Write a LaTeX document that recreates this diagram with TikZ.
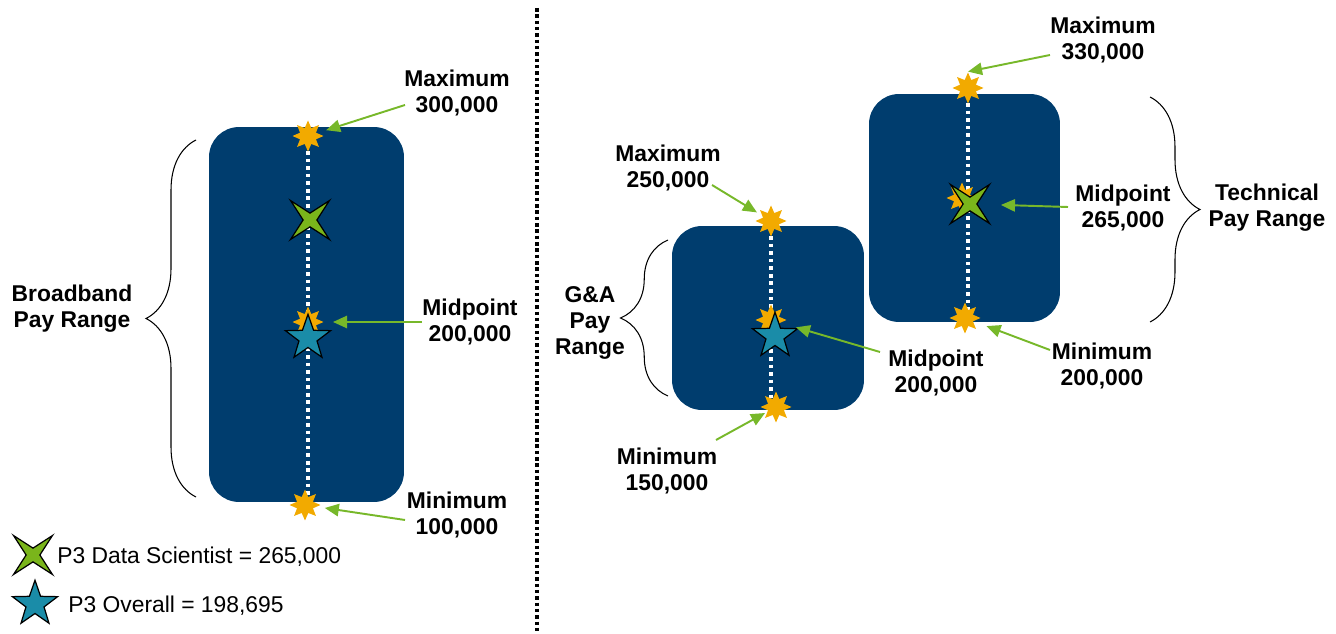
\documentclass[tikz,border=0pt]{standalone}
\usepackage{fontspec}
\setmainfont{Liberation Sans}
\usetikzlibrary{shapes.geometric,arrows.meta,decorations.pathreplacing}
\definecolor{navy}{HTML}{003D6E}
\definecolor{burstc}{HTML}{F2AA00}
\definecolor{lime}{HTML}{77B82A}
\definecolor{xgreen}{HTML}{7AB51B}
\definecolor{tealc}{HTML}{1A8CA8}
\begin{document}
\begin{tikzpicture}[x=0.02cm,y=-0.02cm,
  panel/.style={fill=navy, rounded corners=0.6cm, inner sep=0},
  burst/.style={star, star points=8, star point ratio=1.8, fill=burstc, minimum size=0.62cm, inner sep=0},
  xmark/.style={star, star points=4, star point ratio=4, fill=xgreen, draw=black, line width=0.7pt, shape border rotate=45, minimum size=1.1cm, inner sep=0},
  tstar/.style={star, star points=5, star point ratio=2.5, fill=tealc, draw=black, line width=0.7pt, minimum size=0.95cm, inner sep=0},
  lbl/.style={font=\fontsize{13}{14.7}\selectfont\bfseries, align=center, inner sep=0},
  legtext/.style={font=\fontsize{13}{15}\selectfont, anchor=west, inner sep=0},
  pointer/.style={lime, line width=1.1pt, -{Triangle[length=8pt,width=7pt]}},
  guide/.style={white, line width=2.1pt, dash pattern=on 2.1pt off 2.2pt},
  sep/.style={black, line width=2pt, dash pattern=on 2pt off 1.6pt},
  bracket/.style={decorate, decoration={brace, amplitude=1cm}, line width=0.6pt}
]
\useasboundingbox (0,0) rectangle (1336,634);

% separator
\coordinate (septop) at (537,8);
\coordinate (sepbot) at (537,634);
\draw[sep] (septop) -- (sepbot);

% ---------- left: broadband ----------
\node[panel, minimum width=3.9cm, minimum height=7.5cm] (bb) at (306.5,314.5) {};
\coordinate (lb1) at (308,136);
\coordinate (lb2) at (308,322);
\coordinate (lb3) at (305,505);
\draw[guide] (lb1) -- (308,500);
\node[burst] (b1) at (lb1) {};
\node[burst] (b2) at (lb2) {};
\node[burst] (b3) at (lb3) {};
\node[xmark] (x1) at (310,220) {};
\node[tstar] (t1) at (308,338) {};

\node[lbl] (lmax) at (457,93) {Maximum\\300,000};
\node[lbl] (lmid) at (470,322) {Midpoint\\200,000};
\node[lbl] (lmin) at (457,515) {Minimum\\100,000};
\coordinate (la1) at (405,105);
\coordinate (la2) at (422,322);
\coordinate (la3) at (405,520);
\draw[pointer, shorten >=0.38cm] (la1) -- (b1.center);
\draw[pointer, shorten >=0.5cm] (la2) -- (b2.center);
\draw[pointer, shorten >=0.4cm] (la3) -- (b3.center);

\coordinate (lbrb) at (196,497);
\coordinate (lbrt) at (196,140);
\draw[bracket] (lbrb) -- (lbrt);
\node[lbl] (lrange) at (72,309) {Broadband\\Pay Range};

% legend
\node[xmark] (legx) at (33,555) {};
\node[legtext] (legxt) at (57,557) {P3 Data Scientist = 265,000};
\node[tstar] (legt) at (35,604) {};
\node[legtext] (legtt) at (68,606) {P3 Overall = 198,695};

% ---------- right: G&A ----------
\node[panel, minimum width=3.84cm, minimum height=3.68cm] (ga) at (768,318) {};
\coordinate (gb1) at (771,221);
\coordinate (gb2) at (771,320);
\coordinate (gb3) at (776,407);
\draw[guide] (gb1) -- (771,405);
\node[burst] (g1) at (gb1) {};
\node[burst] (g2) at (gb2) {};
\node[burst] (g3) at (gb3) {};
\node[tstar] (gt) at (775,336) {};

\node[lbl] (gmax) at (668,168) {Maximum\\250,000};
\node[lbl] (gmid) at (936,373) {Midpoint\\200,000};
\node[lbl] (gmin) at (667,471) {Minimum\\150,000};
\coordinate (ga1) at (712,185);
\coordinate (ga2) at (880,352);
\coordinate (ga3) at (716,440);
\draw[pointer, shorten >=0.33cm] (ga1) -- (g1.center);
\draw[pointer, shorten >=0.52cm] (ga2) -- (g2.center);
\draw[pointer, shorten >=0.25cm] (ga3) -- (g3.center);

\coordinate (gbrb) at (668,396);
\coordinate (gbrt) at (668,240);
\draw[bracket, decoration={amplitude=0.95cm}] (gbrb) -- (gbrt);
\node[lbl] (grange) at (590,323) {G\&A\\Pay\\Range};

% ---------- right: technical ----------
\node[panel, minimum width=3.82cm, minimum height=4.56cm] (te) at (964.5,208) {};
\coordinate (tb1p) at (968,88);
\coordinate (tb2p) at (962,198);
\coordinate (tb3p) at (965,318);
\draw[guide] (tb1p) -- (968,316);
\node[burst] (tb1) at (tb1p) {};
\node[burst] (tb2) at (tb2p) {};
\node[burst] (tb3) at (tb3p) {};
\node[xmark] (tx) at (970,204) {};

\node[lbl] (tmax) at (1103,40) {Maximum\\330,000};
\node[lbl] (tmid) at (1123,208) {Midpoint\\265,000};
\node[lbl] (tmin) at (1102,366) {Minimum\\200,000};
\coordinate (ta1) at (1050,55);
\coordinate (ta2) at (1068,207);
\coordinate (ta3) at (1050,350);
\draw[pointer] (ta1) -- (tb1.north);
\draw[pointer, shorten >=0.62cm] (ta2) -- (tx.center);
\draw[pointer, shorten >=0.46cm] (ta3) -- (tb3.center);

\coordinate (tbrt) at (1150,97);
\coordinate (tbrb) at (1150,322);
\draw[bracket] (tbrt) -- (tbrb);
\node[lbl] (trange) at (1267,208) {Technical\\Pay Range};
\end{tikzpicture}
\end{document}
